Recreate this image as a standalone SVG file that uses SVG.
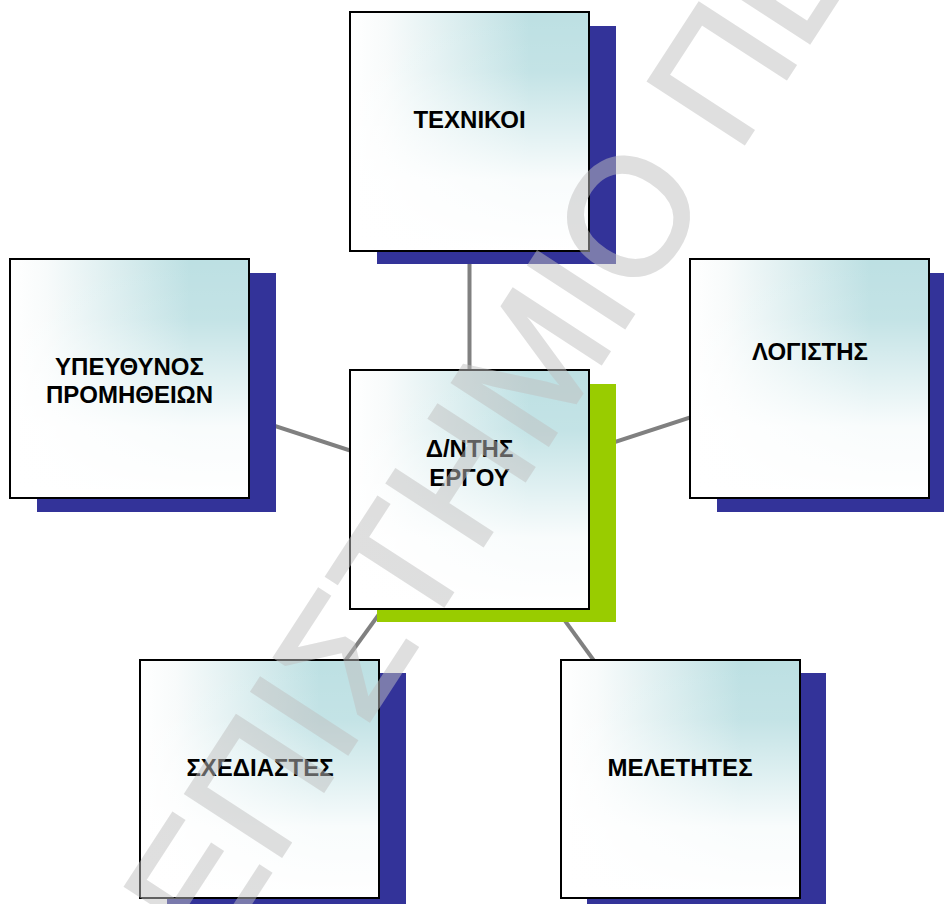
<svg xmlns="http://www.w3.org/2000/svg" width="944" height="904" viewBox="0 0 944 904">
  <defs>
    <linearGradient id="gh" x1="0" y1="0" x2="1" y2="0">
      <stop offset="0" stop-color="#ffffff"/>
      <stop offset="0.15" stop-color="#f8fbfb"/>
      <stop offset="0.75" stop-color="#bde0e3"/>
      <stop offset="1" stop-color="#bde0e3"/>
    </linearGradient>
    <linearGradient id="gv" x1="0" y1="0" x2="0" y2="1">
      <stop offset="0" stop-color="#ffffff" stop-opacity="0"/>
      <stop offset="0.25" stop-color="#ffffff" stop-opacity="0.1"/>
      <stop offset="0.7" stop-color="#ffffff" stop-opacity="0.9"/>
      <stop offset="1" stop-color="#ffffff" stop-opacity="1"/>
    </linearGradient>
  </defs>
  <style>
    .sh { fill: #333399; }
    .shg { fill: #99cc00; }
    .bg { fill: url(#gh); }
    .fade { fill: url(#gv); }
    .bd { fill: none; stroke: #000000; stroke-width: 2; }
    .lbl { font-family: "Liberation Sans", Arial, sans-serif; font-weight: bold; font-size: 24px; fill: #000000; text-anchor: middle; }
    .con { stroke: #808080; stroke-width: 4; fill: none; }
    .wm { font-family: "Liberation Sans", Arial, sans-serif; font-size: 166px; fill: #c0c0c0; stroke: #c0c0c0; stroke-width: 3; stroke-linejoin: miter; }
  </style>
  <rect width="944" height="904" fill="#ffffff"/>

  <g id="connectors">
    <line class="con" x1="469.5" y1="489.5" x2="469.5" y2="131"/>
    <line class="con" x1="469.5" y1="489.5" x2="129.5" y2="378.5"/>
    <line class="con" x1="469.5" y1="489.5" x2="809.5" y2="378.5"/>
    <line class="con" x1="469.5" y1="489.5" x2="259.5" y2="779"/>
    <line class="con" x1="469.5" y1="489.5" x2="680" y2="779"/>
  </g>

  <g id="n-technikoi">
    <rect class="sh" x="377" y="26" width="239" height="238"/>
    <rect class="bg" x="350" y="12" width="239" height="239"/>
    <rect class="fade" x="350" y="12" width="239" height="239"/>
    <rect class="bd" x="350" y="12" width="239" height="239"/>
    <text class="lbl" x="469.5" y="128">ΤΕΧΝΙΚΟΙ</text>
  </g>

  <g id="n-ypeythynos">
    <rect class="sh" x="37" y="273" width="239" height="239"/>
    <rect class="bg" x="10" y="259" width="239" height="239"/>
    <rect class="fade" x="10" y="259" width="239" height="239"/>
    <rect class="bd" x="10" y="259" width="239" height="239"/>
    <text class="lbl" x="129.5" y="375">ΥΠΕΥΘΥΝΟΣ</text>
    <text class="lbl" x="129.5" y="403">ΠΡΟΜΗΘΕΙΩΝ</text>
  </g>

  <g id="n-logistis">
    <rect class="sh" x="717" y="273" width="239" height="239"/>
    <rect class="bg" x="690" y="259" width="239" height="239"/>
    <rect class="fade" x="690" y="259" width="239" height="239"/>
    <rect class="bd" x="690" y="259" width="239" height="239"/>
    <text class="lbl" x="810" y="360">ΛΟΓΙΣΤΗΣ</text>
  </g>

  <g id="n-dntis">
    <rect class="shg" x="377" y="384" width="239" height="238"/>
    <rect class="bg" x="350" y="370" width="239" height="239"/>
    <rect class="fade" x="350" y="370" width="239" height="239"/>
    <rect class="bd" x="350" y="370" width="239" height="239"/>
    <text class="lbl" x="469.5" y="457">Δ/ΝΤΗΣ</text>
    <text class="lbl" x="469.5" y="486">ΕΡΓΟΥ</text>
  </g>

  <g id="n-schediastes">
    <rect class="sh" x="167" y="673" width="239" height="239"/>
    <rect class="bg" x="140" y="660" width="239" height="238"/>
    <rect class="fade" x="140" y="660" width="239" height="238"/>
    <rect class="bd" x="140" y="660" width="239" height="238"/>
    <text class="lbl" x="260" y="776">ΣΧΕΔΙΑΣΤΕΣ</text>
  </g>

  <g id="n-meletites">
    <rect class="sh" x="587" y="673" width="239" height="239"/>
    <rect class="bg" x="561" y="660" width="239" height="238"/>
    <rect class="fade" x="561" y="660" width="239" height="238"/>
    <rect class="bd" x="561" y="660" width="239" height="238"/>
    <text class="lbl" x="680" y="776">ΜΕΛΕΤΗΤΕΣ</text>
  </g>

  <g id="watermark" opacity="0.5">
    <text class="wm" transform="translate(214,960) rotate(-57)">ΕΠΙΣΤΗΜΙΟ ΠΕ</text>
  </g>
</svg>
